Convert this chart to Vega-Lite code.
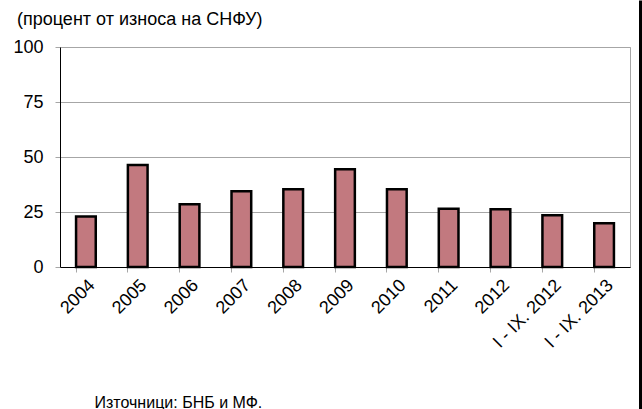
{
  "$schema": "https://vega.github.io/schema/vega-lite/v6.json",
  "usermeta": {"embedOptions": {"actions": false}},
  "width": 570,
  "height": 220,
  "autosize": {"type": "none"},
  "padding": {"left": 60, "top": 47, "right": 12, "bottom": 142},
  "background": "white",
  "config": {
    "font": "Liberation Sans",
    "view": {"stroke": "#a6a6a6", "strokeWidth": 1}
  },
  "title": {
    "text": "(процент от износа на СНФУ)",
    "anchor": "start",
    "frame": "group",
    "dx": -43,
    "offset": -44,
    "baseline": "alphabetic",
    "fontSize": 18,
    "fontWeight": "normal",
    "font": "Liberation Sans",
    "color": "black"
  },
  "data": {
    "values": [
      {"period": "2004", "value": 23.0},
      {"period": "2005", "value": 46.4},
      {"period": "2006", "value": 28.5},
      {"period": "2007", "value": 34.4},
      {"period": "2008", "value": 35.3},
      {"period": "2009", "value": 44.4},
      {"period": "2010", "value": 35.3},
      {"period": "2011", "value": 26.5},
      {"period": "2012", "value": 26.2},
      {"period": "I - IX. 2012", "value": 23.5},
      {"period": "I - IX. 2013", "value": 19.9}
    ]
  },
  "resolve": {"axis": {"x": "independent"}},
  "layer": [
    {
      "mark": {"type": "bar", "fill": "#c2797f", "stroke": "black", "strokeWidth": 2.5},
      "encoding": {
        "x": {
          "field": "period",
          "type": "nominal",
          "sort": null,
          "scale": {"paddingInner": 0.62, "paddingOuter": 0.31},
          "axis": {
            "title": "Източници: БНБ и МФ.",
            "titleX": 34,
            "titleY": 140,
            "titleAlign": "left",
            "titleAnchor": null,
            "titleBaseline": "alphabetic",
            "titleFontSize": 16,
            "titleFontWeight": "normal",
            "titleColor": "black",
            "labelAngle": -45,
            "labelFontSize": 18,
            "labelColor": "black",
            "labelPadding": 4,
            "bandPosition": 0,
            "tickColor": "#a6a6a6",
            "tickSize": 5,
            "domainColor": "black",
            "domainWidth": 1,
            "grid": false
          }
        },
        "y": {
          "field": "value",
          "type": "quantitative",
          "scale": {"domain": [0, 100]},
          "axis": {
            "values": [0, 25, 50, 75, 100],
            "title": null,
            "labelFontSize": 18,
            "labelColor": "black",
            "labelPadding": 12,
            "tickColor": "#a6a6a6",
            "tickSize": 5,
            "gridColor": "#a6a6a6",
            "domainColor": "black"
          }
        }
      }
    },
    {
      "mark": {"type": "bar", "opacity": 0},
      "encoding": {
        "x": {
          "field": "period",
          "type": "nominal",
          "sort": null,
          "axis": {
            "orient": "bottom",
            "values": ["I - IX. 2013"],
            "bandPosition": 1,
            "tickOffset": 26,
            "offset": 142,
            "tickSize": -409,
            "tickColor": "black",
            "tickWidth": 3,
            "tickCap": "butt",
            "labels": false,
            "domain": false,
            "title": null,
            "grid": false
          }
        },
        "y": {"field": "value", "type": "quantitative"}
      }
    }
  ]
}
